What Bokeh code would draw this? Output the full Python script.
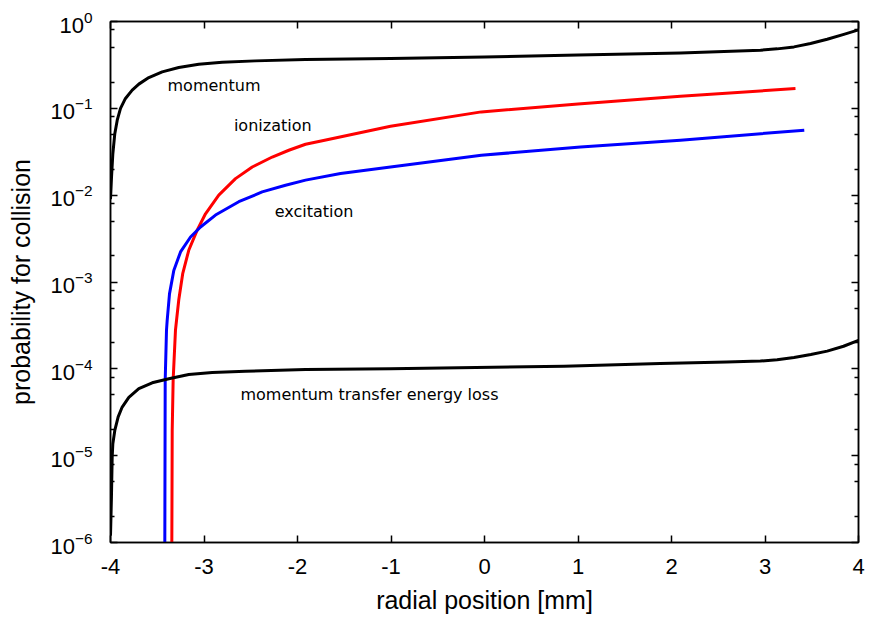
from bokeh.plotting import figure
from bokeh.models import Range1d, LogAxis, LinearAxis, FixedTicker, CustomJSTickFormatter
from bokeh.core.properties import value
from bokeh.embed import file_html
from bokeh.resources import INLINE

# ---- data ----
momentum_x = [-4.0, -3.989, -3.975, -3.954, -3.928, -3.893, -3.84, -3.768, -3.697, -3.59, -3.447, -3.27,
              -3.056, -2.806, -2.45, -1.914, -1.005, 0.0, 1.0, 2.096, 2.952, 3.13, 3.31, 3.487, 3.665, 3.843, 4.0]
momentum_y = [0.009, 0.0162, 0.030, 0.051, 0.073, 0.1, 0.13, 0.162, 0.19, 0.226, 0.263, 0.295,
              0.322, 0.34, 0.352, 0.365, 0.375, 0.39, 0.41, 0.435, 0.467, 0.484, 0.51, 0.557, 0.625, 0.71, 0.80]

ionization_x = [-3.344, -3.340, -3.33, -3.305, -3.294, -3.27, -3.227, -3.163, -3.073, -2.984, -2.842, -2.663,
                -2.484, -2.27, -2.093, -1.914, -1.722, -1.005, -0.034, 1.0, 2.096, 3.326]
ionization_y = [1e-6, 1.96e-5, 7.4e-5, 2.8e-4, 3.6e-4, 6.2e-4, 1.26e-3, 2.32e-3, 3.96e-3, 6.1e-3, 0.01, 0.0155,
                0.0211, 0.0275, 0.0329, 0.0386, 0.0427, 0.0622, 0.091, 0.112, 0.138, 0.169]

excitation_x = [-3.419, -3.415, -3.401, -3.394, -3.369, -3.323, -3.251, -3.144, -3.037, -2.877, -2.628, -2.378,
                -2.128, -1.914, -1.54, -1.005, -0.034, 1.027, 2.096, 3.42]
excitation_y = [1e-6, 7.4e-5, 2.8e-4, 3.6e-4, 7.3e-4, 1.36e-3, 2.22e-3, 3.3e-3, 4.3e-3, 5.9e-3, 8.4e-3, 0.0109,
                0.013, 0.0149, 0.0178, 0.0211, 0.0288, 0.0359, 0.043, 0.056]

mtel_x = [-4.0, -3.99, -3.982, -3.975, -3.954, -3.918, -3.875, -3.804, -3.697, -3.554, -3.376, -3.163, -2.912,
          -2.556, -1.914, -1.005, 0.85, 1.88, 2.59, 2.95, 3.13, 3.31, 3.49, 3.665, 3.84, 4.0]
mtel_y = [1.2e-6, 3.3e-6, 9.6e-6, 1.37e-5, 1.95e-5, 2.8e-5, 3.63e-5, 4.7e-5, 5.9e-5, 6.9e-5, 7.7e-5, 8.6e-5, 9.1e-5,
          9.4e-5, 9.8e-5, 1.0e-4, 1.07e-4, 1.15e-4, 1.2e-4, 1.23e-4, 1.27e-4, 1.35e-4, 1.46e-4, 1.6e-4, 1.82e-4, 2.13e-4]

label_text = ["momentum", "ionization", "excitation", "momentum transfer energy loss"]
label_x = [-3.39, -2.68, -2.243, -2.61]
label_y = [0.181, 0.063, 0.0064, 5.04e-5]

x_ticks = [-4, -3, -2, -1, 0, 1, 2, 3, 4]
y_major = [1e-6, 1e-5, 1e-4, 1e-3, 1e-2, 1e-1, 1e0]
y_minor = [m * 10.0 ** k for k in range(-6, 0) for m in (2, 5, 8)]

TICK_FONT = "Liberation Sans"

p = figure(width=869, height=623, y_axis_type="log",
           x_range=Range1d(-4, 4), y_range=Range1d(1e-6, 1),
           output_backend="svg", toolbar_location=None,
           min_border_left=110, min_border_right=11, min_border_top=21, min_border_bottom=81)
p.grid.visible = False
p.outline_line_color = "black"
p.outline_line_width = 1.5
p.background_fill_color = "white"
p.border_fill_color = "white"

p.line(momentum_x, momentum_y, line_color="black", line_width=3, line_join="round")
p.line(ionization_x, ionization_y, line_color="#ff0000", line_width=3, line_join="round")
p.line(excitation_x, excitation_y, line_color="#0000ff", line_width=3, line_join="round")
p.line(mtel_x, mtel_y, line_color="black", line_width=3, line_join="round")

p.text(x=label_x, y=label_y, text=label_text, text_font=value("DejaVu Sans"),
       text_font_size=value("16px"), text_baseline="alphabetic", text_align="left", text_color="black")


def style(ax, show_labels):
    ax.major_tick_in = 7
    ax.major_tick_out = 0
    ax.minor_tick_in = 4
    ax.minor_tick_out = 0
    ax.axis_line_color = "black"
    ax.axis_line_width = 1.5
    ax.major_tick_line_width = 1.5
    ax.minor_tick_line_width = 1.5
    ax.major_label_text_font = TICK_FONT
    ax.major_label_text_font_size = "22px"
    ax.major_label_text_color = "black"
    ax.axis_label_text_font = TICK_FONT
    ax.axis_label_text_font_size = "25px"
    ax.axis_label_text_font_style = "normal"
    ax.axis_label_text_color = "black"
    if not show_labels:
        ax.formatter = CustomJSTickFormatter(code="return '';")
        ax.major_label_standoff = 0


xa = p.xaxis[0]
xa.ticker = FixedTicker(ticks=x_ticks)
xa.formatter = CustomJSTickFormatter(code="return tick.toFixed(0);")
xa.axis_label = "radial position [mm]"
style(xa, True)
xa.major_label_standoff = 16
xa.axis_label_standoff = 9

ya = p.yaxis[0]
ya.ticker = FixedTicker(ticks=y_major, minor_ticks=y_minor)
ya.axis_label = "probability for collision"
style(ya, True)
ya.major_label_standoff = 18
ya.axis_label_standoff = 12

top = LinearAxis(ticker=FixedTicker(ticks=x_ticks))
style(top, False)
p.add_layout(top, "above")
right = LogAxis(ticker=FixedTicker(ticks=y_major, minor_ticks=y_minor))
style(right, False)
p.add_layout(right, "right")

open("out.html", "w").write(file_html(p, INLINE))
